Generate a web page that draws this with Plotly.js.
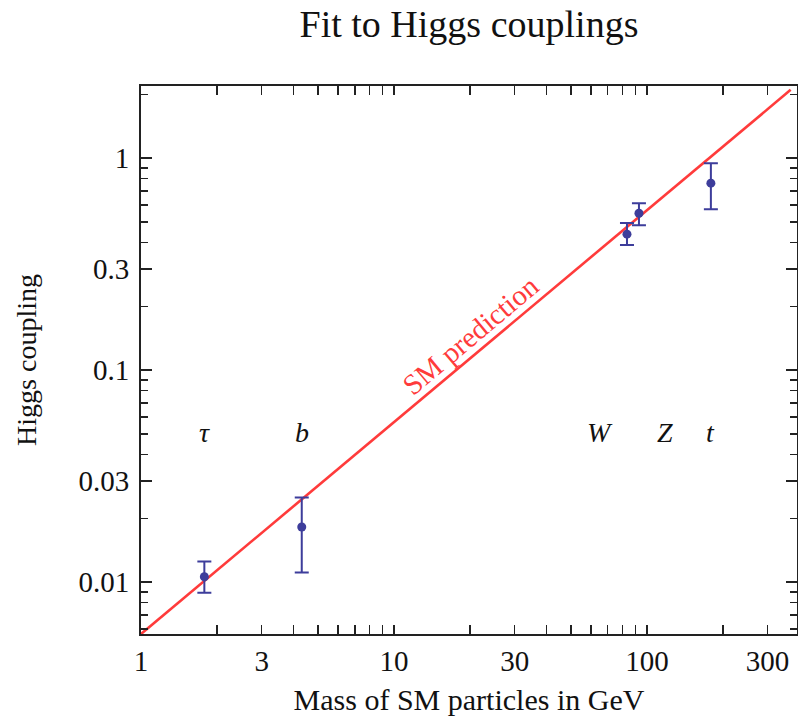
<!DOCTYPE html>
<html>
<head>
<meta charset="utf-8">
<script src="https://cdn.plot.ly/plotly-3.0.1.min.js"></script>
<style>html,body{margin:0;padding:0;background:#fff;}#chart{width:798px;height:716px;}</style>
</head>
<body>
<div id="chart"></div>
<script>
// Particle data
const particles = ["τ", "b", "W", "Z", "t"];
const mass      = [1.78, 4.32, 83.4, 93.0, 179];
const coupling  = [0.0106, 0.0182, 0.438, 0.55, 0.762];
const errUpper  = [0.0125, 0.0251, 0.494, 0.613, 0.947];
const errLower  = [0.0089, 0.0111, 0.389, 0.483, 0.574];
const labelShiftPx = [0, 0, -27, 26, 0];
const labelCoupling = 0.051;

// SM prediction line endpoints
const smX = [1, 370];
const smY = [0.00569, 2.10];
const smLabelMass = 20.5;

// Axis ticks
const xMajor = [1, 3, 10, 30, 100, 300];
const xMajorText = ["1", "3", "10", "30", "100", "300"];
const xMinor = [2, 4, 5, 6, 7, 8, 9, 20, 40, 50, 60, 70, 80, 90, 200, 400];
const yMajor = [0.01, 0.03, 0.1, 0.3, 1];
const yMajorText = ["0.01", "0.03", "0.1", "0.3", "1"];
const yMinor = [0.006, 0.007, 0.008, 0.009, 0.02, 0.04, 0.05, 0.06, 0.07, 0.08, 0.09,
                0.2, 0.4, 0.5, 0.6, 0.7, 0.8, 0.9, 2];

const serif = "Liberation Serif, Times New Roman, serif";
const red = "#ff3b3b";
const blue = "#3d3d9b";

const errPlus = coupling.map((v, i) => errUpper[i] - v);
const errMinus = coupling.map((v, i) => v - errLower[i]);

const traces = [
  {
    x: smX, y: smY, type: "scatter", mode: "lines",
    line: {color: red, width: 2.6}, hoverinfo: "skip", showlegend: false
  },
  {
    x: mass, y: coupling, type: "scatter", mode: "markers",
    marker: {color: blue, size: 9},
    error_y: {type: "data", symmetric: false, array: errPlus, arrayminus: errMinus,
              color: blue, thickness: 2, width: 7},
    showlegend: false
  }
];

// position of the SM label on the line (log-linear interpolation of the line)
const lx0 = Math.log10(smX[0]), lx1 = Math.log10(smX[1]);
const ly0 = Math.log10(smY[0]), ly1 = Math.log10(smY[1]);
const lxs = Math.log10(smLabelMass);
const lys = ly0 + (ly1 - ly0) * (lxs - lx0) / (lx1 - lx0);

const annotations = particles.map((p, i) => ({
  x: Math.log10(mass[i]), y: Math.log10(labelCoupling), xref: "x", yref: "y",
  text: "<i>" + p + "</i>", showarrow: false, xshift: labelShiftPx[i],
  font: {family: serif, size: 28, color: "#111"},
  xanchor: "center", yanchor: "middle"
}));
annotations.push({
  x: lxs, y: lys, xref: "x", yref: "y", text: "SM prediction", showarrow: false,
  textangle: -40, yshift: 21, xshift: -2, font: {family: serif, size: 29, color: red},
  xanchor: "center", yanchor: "middle"
});

const axisCommon = {
  type: "log", showgrid: false, zeroline: false, showline: true, linecolor: "#222",
  linewidth: 2, mirror: "ticks", ticks: "inside", ticklen: 9, tickwidth: 1.5,
  tickcolor: "#222", tickmode: "array",
  tickfont: {family: serif, size: 29, color: "#111"}
};

const layout = {
  width: 798, height: 716,
  margin: {l: 141, r: 1, t: 86, b: 82},
  paper_bgcolor: "#fff", plot_bgcolor: "#fff",
  title: {text: "Fit to Higgs couplings", x: 0.5, xref: "paper", xanchor: "center",
          y: 1 - 24 / 716, yref: "container", yanchor: "middle",
          font: {family: serif, size: 38, color: "#111"}},
  xaxis: Object.assign({}, axisCommon, {
    range: [0, Math.log10(392)],
    tickvals: xMajor, ticktext: xMajorText,
    minor: {tickmode: "array", tickvals: xMinor, ticks: "inside", ticklen: 9, tickwidth: 1.5, tickcolor: "#222", showgrid: false},
    title: {text: "Mass of SM particles in GeV", standoff: 14,
            font: {family: serif, size: 30, color: "#111"}}
  }),
  yaxis: Object.assign({}, axisCommon, {
    range: [Math.log10(0.00569), Math.log10(2.19)],
    tickvals: yMajor, ticktext: yMajorText,
    ticklabelstandoff: 4,
    minor: {tickmode: "array", tickvals: yMinor, ticks: "inside", ticklen: 7, tickwidth: 1.5, tickcolor: "#222", showgrid: false},
    ticklen: 11,
    title: {text: "Higgs coupling", standoff: 34,
            font: {family: serif, size: 28, color: "#111"}}
  }),
  annotations: annotations
};

Plotly.newPlot("chart", traces, layout, {displayModeBar: false, staticPlot: true});
</script>
</body>
</html>
